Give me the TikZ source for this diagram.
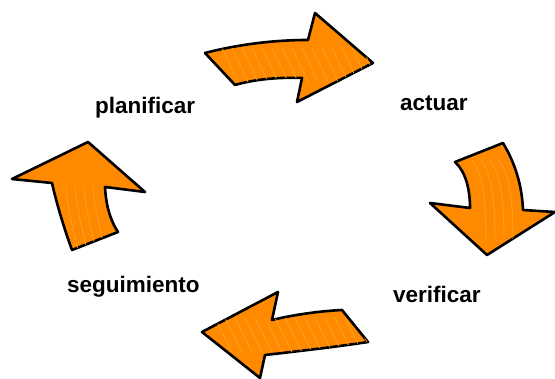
\documentclass[tikz,border=0pt]{standalone}
\usepackage{fontspec}
\setmainfont{Liberation Sans}
\definecolor{arroworange}{HTML}{FF8A00}
\definecolor{stripeorange}{HTML}{FFA020}
\begin{document}
\begin{tikzpicture}[x=1pt,y=-1pt,
  arrowshape/.style={fill=arroworange,draw=black,line width=2.6pt,line join=round},
  stripe/.style={stripeorange,line width=0.8pt},
  lbl/.style={font=\fontsize{22.5}{26}\selectfont\bfseries,inner sep=0pt,anchor=base west}]
\useasboundingbox (0,0) rectangle (555,379);
% top arrow (planificar -> actuar)
\path[arrowshape] (205,53) .. controls (240,44) and (275,40) .. (308,40) -- (315,13) -- (373,63) -- (297,102) -- (302,78) .. controls (275,77) and (252,80) .. (235,85) -- cycle;
\begin{scope}
\clip (205,53) .. controls (240,44) and (275,40) .. (308,40) -- (315,13) -- (373,63) -- (297,102) -- (302,78) .. controls (275,77) and (252,80) .. (235,85) -- cycle;
\foreach \i in {0,...,14} \draw[stripe] (222+10*\i,48) -- (238+10*\i,82);
\end{scope}
% right arrow (actuar -> verificar)
\path[arrowshape] (455,162) -- (503,143) .. controls (515,163) and (522,185) .. (523,210) -- (555,212) -- (487,255) -- (430,203) -- (470,208) .. controls (470,190) and (466,172) .. (455,162) -- cycle;
\begin{scope}
\clip (455,162) -- (503,143) .. controls (515,163) and (522,185) .. (523,210) -- (555,212) -- (487,255) -- (430,203) -- (470,208) .. controls (470,190) and (466,172) .. (455,162) -- cycle;
\foreach \i in {0,...,3} \draw[stripe] (472+9*\i,160) .. controls (482+9*\i,175) and (486+9*\i,195) .. (486+9*\i,240);
\end{scope}
% bottom arrow (verificar -> seguimiento)
\path[arrowshape] (202,332) -- (278,292) -- (272,320) .. controls (297,314) and (322,311) .. (342,310) -- (368,342) .. controls (335,347) and (300,351) .. (265,355) -- (260,378) -- cycle;
\begin{scope}
\clip (202,332) -- (278,292) -- (272,320) .. controls (297,314) and (322,311) .. (342,310) -- (368,342) .. controls (335,347) and (300,351) .. (265,355) -- (260,378) -- cycle;
\foreach \i in {0,...,15} \draw[stripe] (215+10*\i,318) -- (232+10*\i,352);
\end{scope}
% left arrow (seguimiento -> planificar)
\path[arrowshape] (88,142) -- (145,192) -- (105,187) .. controls (106,205) and (110,220) .. (118,232) -- (72,250) .. controls (64,228) and (57,205) .. (52,183) -- (12,179) -- cycle;
\begin{scope}
\clip (88,142) -- (145,192) -- (105,187) .. controls (106,205) and (110,220) .. (118,232) -- (72,250) .. controls (64,228) and (57,205) .. (52,183) -- (12,179) -- cycle;
\foreach \i in {0,...,3} \draw[stripe] (66+9*\i,186) .. controls (67+9*\i,205) and (72+9*\i,225) .. (78+9*\i,250);
\end{scope}
% labels
\node[lbl] (planificar) at (95,114) {planificar};
\node[lbl] (actuar) at (400,111) {actuar};
\node[lbl] (seguimiento) at (67,293) {seguimiento};
\node[lbl] (verificar) at (393,303) {verificar};
\end{tikzpicture}
\end{document}
